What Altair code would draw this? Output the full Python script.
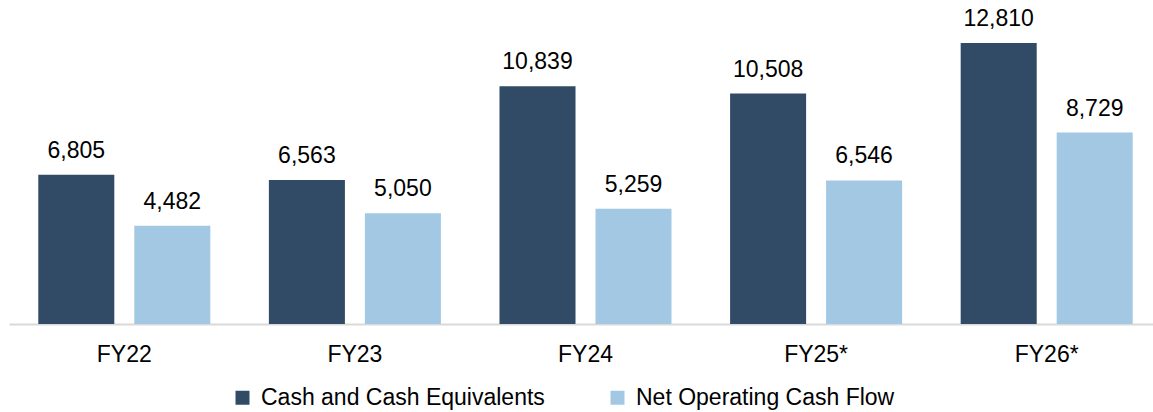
import altair as alt
import pandas as pd

years = ["FY22", "FY23", "FY24", "FY25*", "FY26*"]
cash = [6805, 6563, 10839, 10508, 12810]
ncf = [4482, 5050, 5259, 6546, 8729]
series = ["Cash and Cash Equivalents", "Net Operating Cash Flow"]
colors = ["#314b66", "#a3c8e4"]

rows = []
for i, yr in enumerate(years):
    rows.append({"year": yr, "series": series[0], "value": cash[i]})
    rows.append({"year": yr, "series": series[1], "value": ncf[i]})
df = pd.DataFrame(rows)

FONT = "Liberation Sans"

x = alt.X(
    "year:N",
    sort=years,
    scale=alt.Scale(range=[0, 1153], paddingInner=0, paddingOuter=0),
    axis=alt.Axis(
        title=None, labelAngle=0, ticks=False, labelPadding=19,
        labelFontSize=23, labelFont=FONT, labelColor="#000000",
        domainColor="#d9d9d9", domainWidth=2, grid=False,
    ),
)
xo = alt.XOffset("series:N", sort=series,
                 scale=alt.Scale(paddingInner=0.208, paddingOuter=0.305))
y = alt.Y("value:Q", scale=alt.Scale(domain=[0, 14000], nice=False), axis=None)

bars = alt.Chart(df).mark_bar().encode(
    x=x,
    xOffset=xo,
    y=y,
    color=alt.Color(
        "series:N",
        sort=series,
        scale=alt.Scale(domain=series, range=colors),
        legend=alt.Legend(
            title=None, orient="none", legendX=222, legendY=369,
            direction="horizontal", symbolType="square", symbolSize=196,
            symbolStrokeWidth=0, labelFont=FONT, labelFontSize=23,
            labelColor="#000000", labelOffset=7, labelLimit=600,
            columnPadding=61, padding=0,
        ),
    ),
)

text = alt.Chart(df).mark_text(
    baseline="alphabetic", dy=-17, fontSize=23, font=FONT, color="#000000"
).encode(
    x=x,
    xOffset=xo,
    y=y,
    text=alt.Text("value:Q", format=","),
)

chart = alt.layer(bars, text).properties(
    width=1144,
    height=307,
    autosize=alt.AutoSizeParams(type="none"),
    padding={"left": 9, "top": 17, "right": 0, "bottom": 88},
).configure_view(stroke=None)

chart.save("out.html", embed_options={"renderer": "svg", "actions": False})
